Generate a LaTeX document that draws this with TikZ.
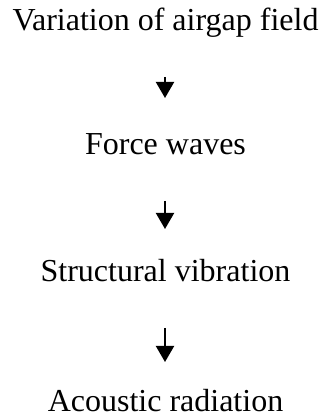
\documentclass[tikz,border=0pt]{standalone}
\usepackage{fontspec}
\setmainfont{Liberation Serif}
\usetikzlibrary{arrows.meta}
\tikzset{
  lbl/.style={anchor=base, inner sep=0pt, font=\fontsize{32}{38}\selectfont},
  arr/.style={line width=2pt, -{Triangle[width=18pt,length=16pt]}}
}
\begin{document}
\begin{tikzpicture}[x=1pt,y=1pt]
\useasboundingbox (0,0) rectangle (323,419);
\node[lbl] (n1) at (165.5,388) {Variation of airgap field};
\node[lbl] (n2) at (165.5,264) {Force waves};
\node[lbl] (n3) at (165.5,137) {Structural vibration};
\node[lbl] (n4) at (165.5,7.5) {Acoustic radiation};
\coordinate (a1s) at (165,342);
\coordinate (a1e) at (165,321);
\coordinate (a2s) at (165,218);
\coordinate (a2e) at (165,190);
\coordinate (a3s) at (165,91);
\coordinate (a3e) at (165,57);
\draw[arr] (a1s) -- (a1e);
\draw[arr] (a2s) -- (a2e);
\draw[arr] (a3s) -- (a3e);
\end{tikzpicture}
\end{document}
